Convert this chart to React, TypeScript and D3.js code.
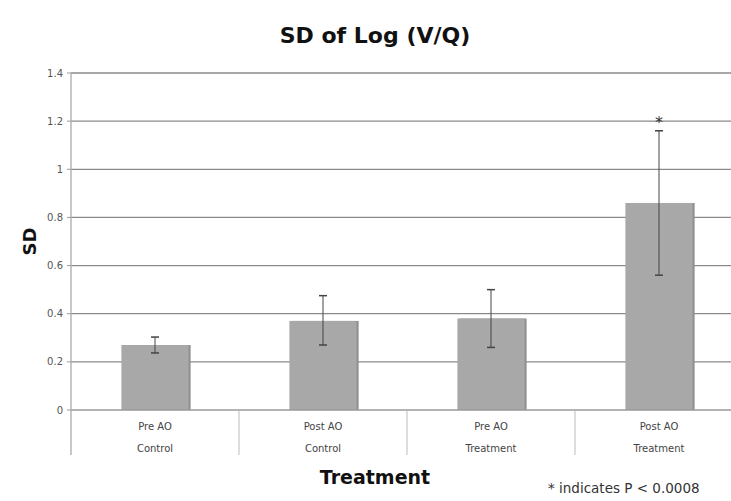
import React from 'react'
import * as d3 from 'd3'

const line1 = ['Pre AO', 'Post AO', 'Pre AO', 'Post AO']
const line2 = ['Control', 'Control', 'Treatment', 'Treatment']
const means = [0.27, 0.37, 0.38, 0.86]
const lows = [0.237, 0.27, 0.26, 0.56]
const highs = [0.303, 0.475, 0.50, 1.16]
const stars = ['', '', '', '*']
const yTicks = [0, 0.2, 0.4, 0.6, 0.8, 1, 1.2, 1.4]

const W = 731
const H = 501
const left = 71
const right = 743
const top = 73
const bottom = 410

export default function App() {
  const x = d3.scaleBand<number>().domain(d3.range(means.length)).range([left, right]).paddingInner(0).paddingOuter(0)
  const y = d3.scaleLinear().domain([0, 1.4]).range([bottom, top])
  const bw = x.bandwidth() * 0.4
  const font = 'DejaVu Sans, Verdana, sans-serif'

  return (
    <svg width={W} height={H} style={{ position: 'absolute', left: 0, top: 0, background: '#fff' }} fontFamily={font}>
      <text x={375} y={43} textAnchor="middle" fontSize={22} fontWeight="bold" fill="#111">SD of Log (V/Q)</text>

      {yTicks.map(t => (
        <g key={t}>
          {t > 0 && <line x1={left} x2={right} y1={y(t)} y2={y(t)} stroke="#8a8a8a" strokeWidth={1.3} />}
          <line x1={left - 4} x2={left} y1={y(t)} y2={y(t)} stroke="#999" />
          <text x={left - 8} y={y(t) + 3.5} textAnchor="end" fontSize={10} fill="#555">{d3.format('~g')(t)}</text>
        </g>
      ))}

      {means.map((m, i) => {
        const cx = x(i)! + x.bandwidth() / 2
        return (
          <g key={i}>
            <rect x={cx - bw / 2 + 2} y={y(m)} width={bw} height={bottom - y(m)} fill="#8f8f8f" />
            <rect x={cx - bw / 2} y={y(m)} width={bw} height={bottom - y(m)} fill="#a8a8a8" />
            <line x1={cx} x2={cx} y1={y(highs[i])} y2={y(lows[i])} stroke="#444" strokeWidth={1} />
            <line x1={cx - 4} x2={cx + 4} y1={y(highs[i])} y2={y(highs[i])} stroke="#444" strokeWidth={1.5} />
            <line x1={cx - 4} x2={cx + 4} y1={y(lows[i])} y2={y(lows[i])} stroke="#444" strokeWidth={1.5} />
            {stars[i] && <text x={cx} y={y(highs[i]) - 3} textAnchor="middle" fontSize={16} fill="#333">{stars[i]}</text>}
          </g>
        )
      })}

      <line x1={left} x2={right} y1={bottom} y2={bottom} stroke="#999" strokeWidth={1.3} />
      <line x1={left} x2={left} y1={top} y2={455} stroke="#aaa" strokeWidth={1.3} />
      {means.map((_, i) => i > 0 && (
        <line key={'d' + i} x1={x(i)!} x2={x(i)!} y1={bottom} y2={455} stroke="#bbb" strokeWidth={1} />
      ))}
      {means.map((_, i) => {
        const cx = x(i)! + x.bandwidth() / 2
        return (
          <g key={'l' + i} fontSize={10} fill="#444" textAnchor="middle">
            <text x={cx} y={430}>{line1[i]}</text>
            <text x={cx} y={452}>{line2[i]}</text>
          </g>
        )
      })}

      <text x={375} y={484} textAnchor="middle" fontSize={19} fontWeight="bold" fill="#111">Treatment</text>
      <text transform={`translate(36,${(top + bottom) / 2}) rotate(-90)`} textAnchor="middle" fontSize={18} fontWeight="bold" fill="#111">SD</text>
      <text x={548} y={493} fontSize={13.5} fill="#333">* indicates P &lt; 0.0008</text>
    </svg>
  )
}
